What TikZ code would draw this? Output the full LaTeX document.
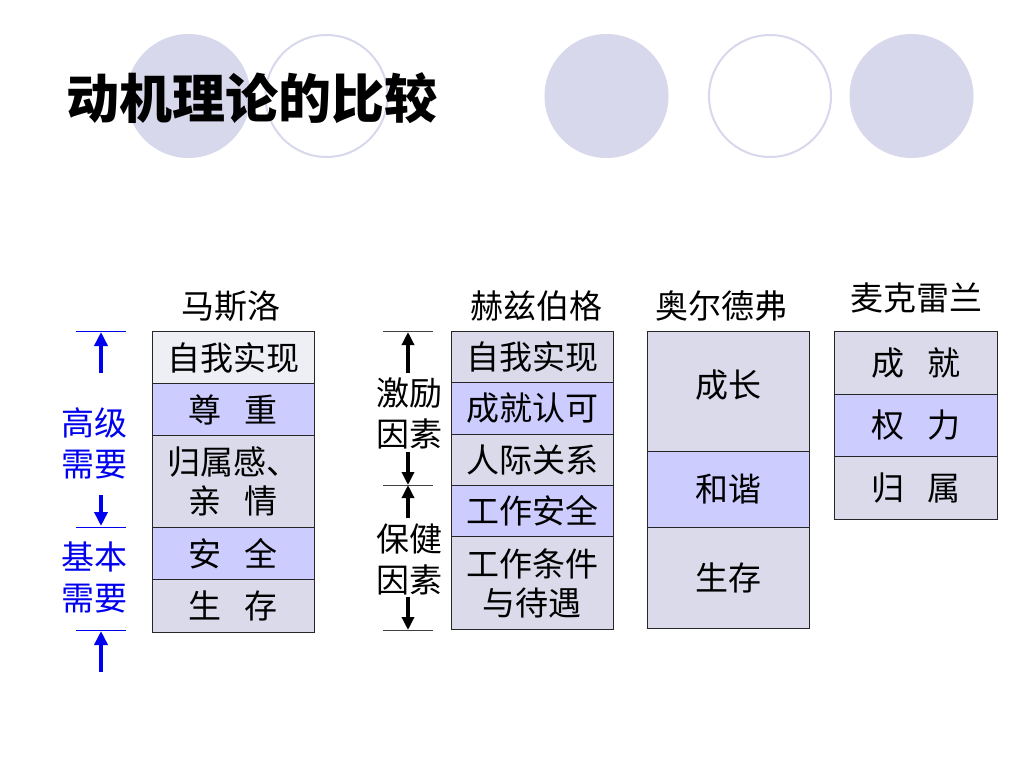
\documentclass[tikz,border=0pt]{standalone}
\usepackage{fontspec}
\newfontfamily\cjk{Noto Sans CJK SC}
\usetikzlibrary{arrows.meta}
\definecolor{lav}{HTML}{DADAEA}
\definecolor{lavl}{HTML}{EEEEF5}
\definecolor{blu}{HTML}{CCCCFF}
\definecolor{circ}{HTML}{D8D8EC}
\definecolor{bluetxt}{HTML}{0000F0}
\begin{document}
\begin{tikzpicture}[x=1pt,y=-1pt,
  cell/.style={draw=black!85, line width=0.9pt, minimum width=162pt, inner sep=0pt,
    font=\cjk\fontsize{33}{39}\selectfont, align=center, anchor=north west},
  head/.style={font=\cjk\fontsize{33}{39}\selectfont, inner sep=0pt},
  side/.style={font=\cjk\fontsize{33}{41}\selectfont, align=center, inner sep=0pt},
  barrow/.style={draw=bluetxt, line width=4.5pt, -{Triangle[length=14pt,width=13pt]}},
  karrow/.style={draw=black, line width=4pt, -{Triangle[length=13pt,width=12pt]}},
  bline/.style={draw=bluetxt, line width=1pt},
  kline/.style={draw=black!75, line width=1pt}]
\useasboundingbox (0,0) rectangle (1024,768);
\fill[white] (0,0) rectangle (1024,768);
% decorative circles
\fill[circ] (188.5,96) circle (62pt);
\draw[circ, line width=2pt] (326.5,96) circle (61pt);
\fill[circ] (606.5,96) circle (62pt);
\draw[circ, line width=2pt] (770,96) circle (61pt);
\fill[circ] (911.5,96) circle (62pt);
\node[font=\cjk\bfseries\fontsize{53}{53}\selectfont, inner sep=0pt] (title) at (252,98) {动机理论的比较};
% headers
\node[head] (hm) at (231,306) {马斯洛};
\node[head] (hh) at (536,306) {赫兹伯格};
\node[head] (ha) at (721,306) {奥尔德弗};
\node[head] (hc) at (916,298) {麦克雷兰};
% Maslow
\node[cell, fill=lavl, minimum height=52pt] (m1) at (152,331) {自我实现};
\node[cell, fill=blu, minimum height=52pt] (m2) at (152,383) {尊\hspace{0.7em}重};
\node[cell, fill=lav, minimum height=92pt] (m3) at (152,435) {归属感、\\亲\hspace{0.7em}情};
\node[cell, fill=blu, minimum height=52pt] (m4) at (152,527) {安\hspace{0.7em}全};
\node[cell, fill=lav, minimum height=53pt] (m5) at (152,579) {生\hspace{0.7em}存};
% Herzberg
\node[cell, fill=lav, minimum height=51pt] (h1) at (451,331) {自我实现};
\node[cell, fill=blu, minimum height=52pt] (h2) at (451,382) {成就认可};
\node[cell, fill=lav, minimum height=51pt] (h3) at (451,434) {人际关系};
\node[cell, fill=blu, minimum height=51pt] (h4) at (451,485) {工作安全};
\node[cell, fill=lav, minimum height=93pt] (h5) at (451,536) {工作条件\\与待遇};
% Alderfer
\node[cell, fill=lav, minimum height=120pt] (a1) at (647,331) {};
\node[head] (a1t) at (728,385) {成长};
\node[cell, fill=blu, minimum height=76pt] (a2) at (647,451) {和谐};
\node[cell, fill=lav, minimum height=101pt] (a3) at (647,527) {生存};
% McClelland
\node[cell, fill=lav, minimum width=163pt, minimum height=63pt] (c1) at (834,331) {成\hspace{0.7em}就};
\node[cell, fill=blu, minimum width=163pt, minimum height=62pt] (c2) at (834,394) {权\hspace{0.7em}力};
\node[cell, fill=lav, minimum width=163pt, minimum height=63pt] (c3) at (834,456) {归\hspace{0.7em}属};
% left blue scale
\node[side, text=bluetxt] (hi) at (94,443) {高级\\需要};
\node[side, text=bluetxt] (lo) at (94,577) {基本\\需要};
\coordinate (bl1a) at (76,331); \coordinate (bl1b) at (126,331);
\coordinate (bl2a) at (76,527); \coordinate (bl2b) at (126,527);
\coordinate (bl3a) at (76,630); \coordinate (bl3b) at (126,630);
\draw[bline] (bl1a) -- (bl1b);
\draw[bline] (bl2a) -- (bl2b);
\draw[bline] (bl3a) -- (bl3b);
\coordinate (ba1) at (101,373); \coordinate (ba1t) at (101,332);
\coordinate (ba2) at (101,495); \coordinate (ba2t) at (101,526);
\coordinate (ba3) at (101,672); \coordinate (ba3t) at (101,631);
\draw[barrow] (ba1) -- (ba1t);
\draw[barrow] (ba2) -- (ba2t);
\draw[barrow] (ba3) -- (ba3t);
% Herzberg scale
\node[side] (mot) at (409,413) {激励\\因素};
\node[side] (hyg) at (409,559) {保健\\因素};
\coordinate (kl1a) at (383,331); \coordinate (kl1b) at (433,331);
\coordinate (kl2a) at (383,485); \coordinate (kl2b) at (433,485);
\coordinate (kl3a) at (383,630); \coordinate (kl3b) at (433,630);
\draw[kline] (kl1a) -- (kl1b);
\draw[kline] (kl2a) -- (kl2b);
\draw[kline] (kl3a) -- (kl3b);
\coordinate (ka1) at (408,373); \coordinate (ka1t) at (408,332);
\coordinate (ka2) at (408,452); \coordinate (ka2t) at (408,485);
\coordinate (ka3) at (408,518); \coordinate (ka3t) at (408,485);
\coordinate (ka4) at (408,597); \coordinate (ka4t) at (408,630);
\draw[karrow] (ka1) -- (ka1t);
\draw[karrow] (ka2) -- (ka2t);
\draw[karrow] (ka3) -- (ka3t);
\draw[karrow] (ka4) -- (ka4t);
\end{tikzpicture}
\end{document}
